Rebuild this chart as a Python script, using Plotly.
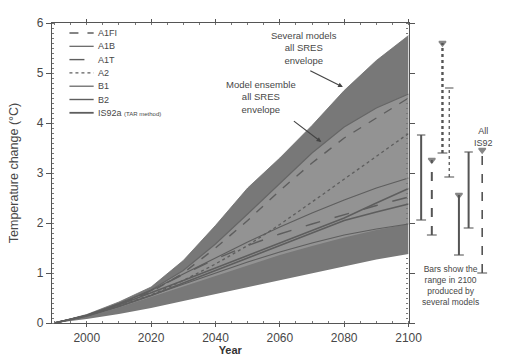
import plotly.graph_objects as go

# ---------------- data ----------------
years = [1990, 2000, 2010, 2020, 2030, 2040, 2050, 2060, 2070, 2080, 2090, 2100]

# envelopes
several_upper = [0, 0.17, 0.42, 0.72, 1.25, 1.95, 2.70, 3.30, 3.95, 4.65, 5.25, 5.75]
several_lower = [0, 0.08, 0.18, 0.30, 0.44, 0.58, 0.72, 0.86, 1.00, 1.14, 1.27, 1.38]
ensemble_upper = [0, 0.16, 0.39, 0.66, 1.05, 1.58, 2.18, 2.80, 3.40, 3.92, 4.30, 4.58]
ensemble_lower = [0, 0.13, 0.31, 0.52, 0.74, 0.95, 1.16, 1.36, 1.54, 1.71, 1.86, 1.98]

# scenario curves
scenario_names = ["A1FI", "A1B", "A1T", "A2", "B1", "B2", "IS92a"]
a1fi = [0, 0.15, 0.37, 0.62, 1.00, 1.50, 2.05, 2.65, 3.20, 3.70, 4.10, 4.50]
a1b = [0, 0.15, 0.38, 0.65, 0.98, 1.30, 1.62, 1.92, 2.20, 2.46, 2.70, 2.90]
a1t = [0, 0.15, 0.38, 0.65, 0.97, 1.28, 1.55, 1.78, 1.98, 2.17, 2.35, 2.52]
a2 = [0, 0.14, 0.34, 0.56, 0.85, 1.18, 1.55, 1.97, 2.42, 2.88, 3.33, 3.79]
b1 = [0, 0.14, 0.33, 0.55, 0.78, 1.00, 1.22, 1.42, 1.60, 1.76, 1.88, 1.98]
b2 = [0, 0.15, 0.36, 0.60, 0.85, 1.10, 1.35, 1.60, 1.85, 2.10, 2.40, 2.69]
is92a = [0, 0.14, 0.33, 0.55, 0.80, 1.05, 1.30, 1.55, 1.80, 2.05, 2.22, 2.38]
scenario_values = [a1fi, a1b, a1t, a2, b1, b2, is92a]

# range bars in 2100
bar_names = ["A1B", "A1T", "A1FI", "A2", "B1", "B2", "All IS92"]
bar_low = [2.06, 1.76, 3.40, 2.92, 1.36, 1.90, 1.00]
bar_high = [3.76, 3.26, 5.60, 4.70, 2.56, 3.42, 3.46]

y_ticks = [0, 1, 2, 3, 4, 5, 6]
x_ticks = [2000, 2020, 2040, 2060, 2080, 2100]

# ---------------- styles / layout constants ----------------
FONT = "Arial, Liberation Sans, sans-serif"
TXT = "#474747"
LINE = "#5e5e5e"
scen_dash = ["dash", "solid", "longdash", "dot", "solid", "solid", "solid"]
scen_width = [1.4, 1.2, 1.4, 1.3, 1.2, 1.4, 1.8]
bar_pos = [11, 22, 33, 40, 50, 60, 74]
bar_dash = ["solid", "dash", "dot", "dot", "solid", "solid", "dash"]
bar_width = [2.0, 2.0, 2.4, 1.3, 2.0, 2.0, 1.6]
bar_top_symbol = ["line-ew", "triangle-down", "triangle-down", "line-ew",
                  "triangle-down", "line-ew", "triangle-down"]

fig = go.Figure()

# outer envelope (several models)
fig.add_trace(go.Scatter(x=years, y=several_lower, mode="lines",
                         line=dict(width=0, color="#787878"), showlegend=False,
                         hoverinfo="skip"))
fig.add_trace(go.Scatter(x=years, y=several_upper, mode="lines", fill="tonexty",
                         fillcolor="#787878", line=dict(width=0.8, color="#6e6e6e"),
                         showlegend=False, hoverinfo="skip"))
# model-ensemble envelope
fig.add_trace(go.Scatter(x=years, y=ensemble_lower, mode="lines",
                         line=dict(width=0, color="#939393"), showlegend=False,
                         hoverinfo="skip"))
fig.add_trace(go.Scatter(x=years, y=ensemble_upper, mode="lines", fill="tonexty",
                         fillcolor="#939393", line=dict(width=1.2, color="#666666"),
                         showlegend=False, hoverinfo="skip"))

for name, vals, d, w in zip(scenario_names, scenario_values, scen_dash, scen_width):
    fig.add_trace(go.Scatter(x=years, y=vals, mode="lines", name=name,
                             line=dict(color=LINE, width=w, dash=d),
                             showlegend=False))

# range bars (second x axis to the right of the plot)
for name, px, lo, hi, d, w, sym in zip(bar_names, bar_pos, bar_low, bar_high,
                                        bar_dash, bar_width, bar_top_symbol):
    fig.add_trace(go.Scatter(x=[px, px], y=[lo, hi], mode="lines+markers",
                             xaxis="x2", yaxis="y", name=name, showlegend=False,
                             line=dict(color="#555555", width=w, dash=d),
                             marker=dict(symbol=["line-ew", sym], size=[7, 6],
                                         color="#555555",
                                         line=dict(color="#555555", width=1.5))))

# ---------------- custom legend (top-left) ----------------
L, R, T, B = 52, 4, 23, 40
W, H = 506 - L - R, 363 - T - B
def px2x(p):
    return (p - L) / W
def py2y(p):
    return (363 - B - p) / H

leg_top, leg_step = 33, 13.3
shapes = []
annotations = []
for i, name in enumerate(scenario_names):
    yy = py2y(leg_top + i * leg_step)
    shapes.append(dict(type="line", xref="paper", yref="paper",
                       x0=px2x(70), x1=px2x(95), y0=yy, y1=yy,
                       line=dict(color=LINE, width=scen_width[i], dash=scen_dash[i])))
    label = name if name != "IS92a" else "IS92a <span style='font-size:6px'>(TAR method)</span>"
    annotations.append(dict(xref="paper", yref="paper", x=px2x(97), y=yy,
                            text=label, showarrow=False, xanchor="left",
                            yanchor="middle", font=dict(size=9, color=TXT, family=FONT)))

# envelope annotations
annotations.append(dict(x=2067.5, y=5.5, xref="x", yref="y",
                        text="Several models<br>all SRES<br>envelope", showarrow=False,
                        font=dict(size=9.5, color=TXT, family=FONT), align="center"))
annotations.append(dict(x=2079.6, y=4.72, ax=2069.0, ay=5.06, xref="x", yref="y",
                        axref="x", ayref="y", text="", showarrow=True, arrowhead=2,
                        arrowsize=0.8, arrowwidth=1.2, arrowcolor="#444"))
annotations.append(dict(x=2054.3, y=4.52, xref="x", yref="y",
                        text="Model ensemble<br>all SRES<br>envelope", showarrow=False,
                        font=dict(size=9.5, color=TXT, family=FONT), align="center"))
annotations.append(dict(x=2072.9, y=3.62, ax=2063.9, ay=4.06, xref="x", yref="y",
                        axref="x", ayref="y", text="", showarrow=True, arrowhead=2,
                        arrowsize=0.8, arrowwidth=1.2, arrowcolor="#444"))
# bar annotations
annotations.append(dict(x=41, y=0.76, xref="x2", yref="y",
                        text="Bars show the<br>range in 2100<br>produced by<br>several models",
                        showarrow=False, font=dict(size=8.5, color=TXT, family=FONT),
                        align="center"))
annotations.append(dict(x=75, y=3.73, xref="x2", yref="y", text="All<br>IS92",
                        showarrow=False, font=dict(size=9, color=TXT, family=FONT),
                        align="center"))

x_dom_end = (420 - L) / W
fig.update_layout(
    width=506, height=363, autosize=False,
    margin=dict(l=L, r=R, t=T, b=B),
    paper_bgcolor="white", plot_bgcolor="white",
    font=dict(family=FONT, color=TXT),
    showlegend=False,
    shapes=shapes, annotations=annotations,
    xaxis=dict(domain=[0, x_dom_end], range=[1989.2, 2100], tickvals=x_ticks,
               ticks="outside", ticklen=3, tickcolor="#555", showline=True,
               linecolor="#555", linewidth=1.2, mirror="ticks", showgrid=False,
               zeroline=False, tickfont=dict(size=12, color=TXT),
               minor=dict(dtick=5, ticks="inside", ticklen=2, tickcolor="#777"),
               title=dict(text="<b>Year</b>", font=dict(size=11, color="#333"),
                          standoff=0)),
    xaxis2=dict(domain=[(422 - L) / W, 1.0], range=[0, 80], visible=False,
                anchor="y", showgrid=False, zeroline=False),
    yaxis=dict(range=[0, 6], tickvals=y_ticks, ticks="outside", ticklen=5,
               tickcolor="#555", showline=True, linecolor="#555", linewidth=1.2,
               mirror="ticks", showgrid=False, zeroline=False,
               tickfont=dict(size=12, color=TXT),
               minor=dict(dtick=0.1, ticks="inside", ticklen=2, tickcolor="#777"),
               title=dict(text="Temperature change (°C)",
                          font=dict(size=12.5, color=TXT))),
)

fig.write_html(
    "out.html",
    config={"displayModeBar": False, "responsive": False},
    post_script=(
        "document.body.style.margin='0';"
        "document.body.style.overflow='hidden';"
    ),
)
